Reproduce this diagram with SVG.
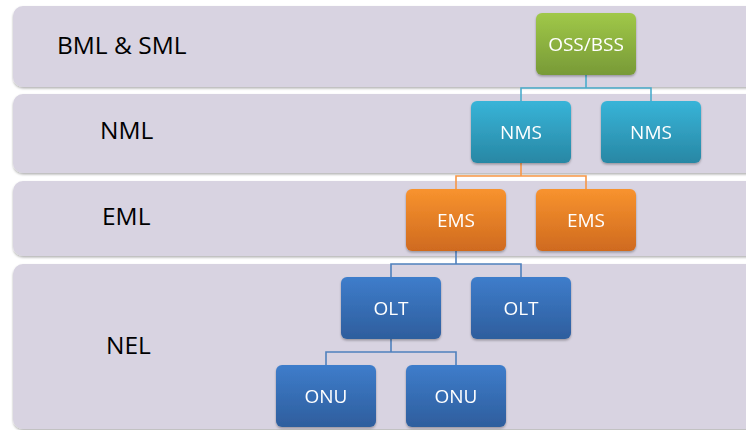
<svg xmlns="http://www.w3.org/2000/svg" width="746" height="430" viewBox="0 0 746 430">
<defs>
  <linearGradient id="gGreen" x1="0" y1="0" x2="0" y2="1"><stop offset="0" stop-color="#a0c848"/><stop offset="1" stop-color="#789a37"/></linearGradient>
  <linearGradient id="gTeal" x1="0" y1="0" x2="0" y2="1"><stop offset="0" stop-color="#38b4d8"/><stop offset="1" stop-color="#2887a4"/></linearGradient>
  <linearGradient id="gOrange" x1="0" y1="0" x2="0" y2="1"><stop offset="0" stop-color="#f8932e"/><stop offset="1" stop-color="#cf6a1f"/></linearGradient>
  <linearGradient id="gBlue" x1="0" y1="0" x2="0" y2="1"><stop offset="0" stop-color="#3e7dcb"/><stop offset="1" stop-color="#2e5e9d"/></linearGradient>
  <filter id="sh" x="-10%" y="-10%" width="120%" height="130%"><feDropShadow dx="0" dy="1.5" stdDeviation="1.2" flood-color="#000" flood-opacity="0.3"/></filter>
</defs>
<style>
  .band { fill:#d8d3e1; filter:url(#sh); }
  .lbl { font-family:"Open Sans","Liberation Sans",sans-serif; font-size:24.5px; fill:#000; }
  .nt { font-family:"Open Sans","Liberation Sans",sans-serif; font-size:19px; fill:#fff; text-anchor:middle; }
  .node { filter:url(#sh); }
  .c { fill:none; stroke-width:1.6; }
</style>
<rect width="746" height="430" fill="#fff"/>
<g id="bands">
  <rect class="band" x="13" y="6" width="760" height="81" rx="10"/>
  <rect class="band" x="13" y="94" width="760" height="79" rx="10"/>
  <rect class="band" x="13" y="181" width="760" height="75" rx="10"/>
  <rect class="band" x="13" y="264" width="760" height="165" rx="10"/>
</g>
<g id="labels">
  <text class="lbl" x="57" y="54">BML &amp; SML</text>
  <text class="lbl" x="100" y="139">NML</text>
  <text class="lbl" x="102" y="225">EML</text>
  <text class="lbl" x="106" y="354">NEL</text>
</g>
<g id="connectors">
  <path class="c" stroke="#4aaccc" d="M586 75V88M521 101V88H651V101"/>
  <path class="c" stroke="#f79646" d="M521 163V176M456 189V176H586V189"/>
  <path class="c" stroke="#4f81bd" d="M456 251V264M391 277V264H521V277"/>
  <path class="c" stroke="#4f81bd" d="M391 339V352M326 365V352H456V365"/>
</g>
<g id="oss" class="node"><rect x="536" y="13" width="100" height="62" rx="6" fill="url(#gGreen)"/><text class="nt" x="586" y="51">OSS/BSS</text></g>
<g id="nms1" class="node"><rect x="471" y="101" width="100" height="62" rx="6" fill="url(#gTeal)"/><text class="nt" x="521" y="139">NMS</text></g>
<g id="nms2" class="node"><rect x="601" y="101" width="100" height="62" rx="6" fill="url(#gTeal)"/><text class="nt" x="651" y="139">NMS</text></g>
<g id="ems1" class="node"><rect x="406" y="189" width="100" height="62" rx="6" fill="url(#gOrange)"/><text class="nt" x="456" y="227">EMS</text></g>
<g id="ems2" class="node"><rect x="536" y="189" width="100" height="62" rx="6" fill="url(#gOrange)"/><text class="nt" x="586" y="227">EMS</text></g>
<g id="olt1" class="node"><rect x="341" y="277" width="100" height="62" rx="6" fill="url(#gBlue)"/><text class="nt" x="391" y="315">OLT</text></g>
<g id="olt2" class="node"><rect x="471" y="277" width="100" height="62" rx="6" fill="url(#gBlue)"/><text class="nt" x="521" y="315">OLT</text></g>
<g id="onu1" class="node"><rect x="276" y="365" width="100" height="62" rx="6" fill="url(#gBlue)"/><text class="nt" x="326" y="403">ONU</text></g>
<g id="onu2" class="node"><rect x="406" y="365" width="100" height="62" rx="6" fill="url(#gBlue)"/><text class="nt" x="456" y="403">ONU</text></g>
</svg>
